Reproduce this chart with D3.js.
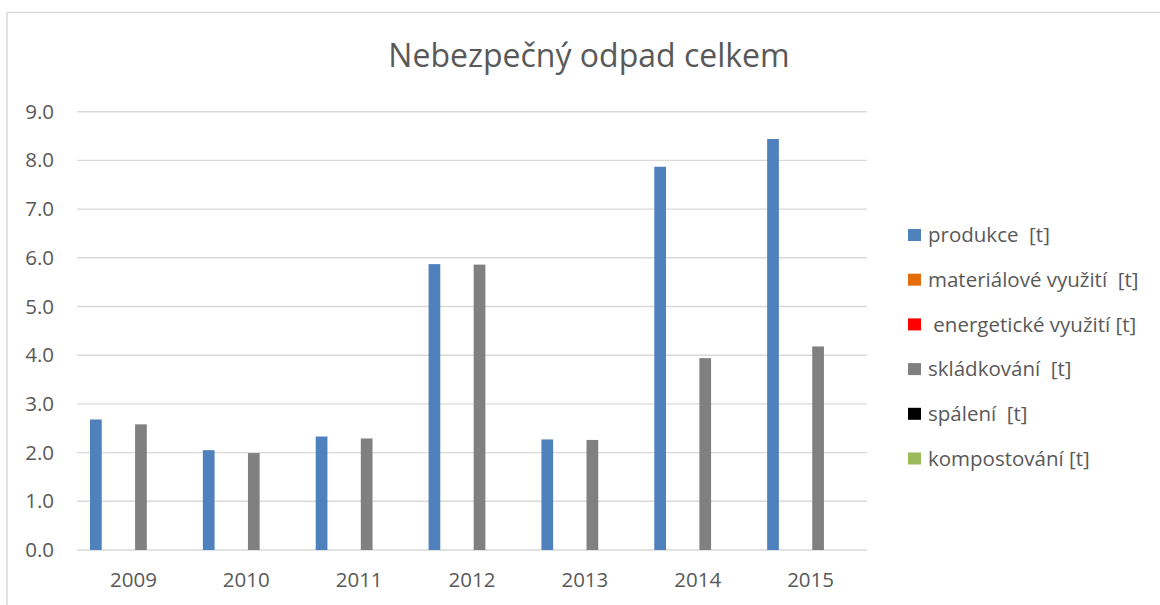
<!DOCTYPE html>
<meta charset="utf-8">
<script src="https://d3js.org/d3.v7.min.js"></script>
<style>
  body { margin: 0; background: #fff; }
  text { font-family: "Open Sans", sans-serif; fill: #595959; }
  .legend text { white-space: pre; }
</style>
<body>
<svg id="vis" width="1160" height="605"></svg>
<script>
// data
var years = ["2009", "2010", "2011", "2012", "2013", "2014", "2015"];
var seriesNames = ["produkce  [t]", "materiálové využití  [t]", " energetické využití [t]",
                   "skládkování  [t]", "spálení  [t]", "kompostování [t]"];
var seriesColors = ["#4f81bd", "#e46c0a", "#ff0000", "#808080", "#000000", "#9bbb59"];
var produkce = [2.68, 2.05, 2.33, 5.87, 2.27, 7.87, 8.44];
var materialove = [0, 0, 0, 0, 0, 0, 0];
var energeticke = [0, 0, 0, 0, 0, 0, 0];
var skladkovani = [2.58, 1.99, 2.29, 5.86, 2.26, 3.94, 4.18];
var spaleni = [0, 0, 0, 0, 0, 0, 0];
var kompostovani = [0, 0, 0, 0, 0, 0, 0];
var yTicks = [0, 1, 2, 3, 4, 5, 6, 7, 8, 9];

var allSeries = [produkce, materialove, energeticke, skladkovani, spaleni, kompostovani];

var svg = d3.select("#vis");

// chart frame
svg.append("rect")
  .attr("x", 7).attr("y", 12.5)
  .attr("width", 1200).attr("height", 700)
  .attr("fill", "none")
  .attr("stroke", "#d9d9d9")
  .attr("stroke-width", 1.5);

// title
svg.append("text")
  .attr("x", 589).attr("y", 67)
  .attr("text-anchor", "middle")
  .attr("font-size", "32px")
  .text("Nebezpečný odpad celkem");

// scales
var x0 = d3.scaleBand().domain(years).range([77, 867]);
var x1 = d3.scaleBand().domain(d3.range(seriesNames.length))
  .range([13, x0.bandwidth() - 13]).paddingInner(0.22);
var y = d3.scaleLinear().domain([0, 9]).range([550, 111.7]);

// gridlines
svg.append("g")
  .selectAll("line")
  .data(yTicks)
  .enter().append("line")
    .attr("x1", 77).attr("x2", 867)
    .attr("y1", function(d) { return y(d); })
    .attr("y2", function(d) { return y(d); })
    .attr("stroke", "#d9d9d9")
    .attr("stroke-width", 1.4);

// y axis labels
var yAxis = svg.append("g")
  .attr("transform", "translate(54,0)")
  .call(d3.axisLeft(y).tickValues(yTicks).tickSize(0).tickPadding(0).tickFormat(d3.format(".1f")));
yAxis.select(".domain").remove();
yAxis.selectAll("text").attr("font-size", "20.5px").attr("font-family", null).attr("fill", null);

// x axis labels
var xAxis = svg.append("g")
  .attr("transform", "translate(0,550)")
  .call(d3.axisBottom(x0).tickSize(0).tickPadding(22));
xAxis.select(".domain").remove();
xAxis.selectAll("text").attr("font-size", "20.5px").attr("font-family", null).attr("fill", null);

// bars
var groups = svg.append("g")
  .selectAll("g")
  .data(years)
  .enter().append("g")
    .attr("transform", function(d) { return "translate(" + x0(d) + ",0)"; });

groups.selectAll("rect")
  .data(function(d, i) { return allSeries.map(function(s, k) { return {k: k, v: s[i]}; }); })
  .enter().append("rect")
    .attr("x", function(d) { return x1(d.k); })
    .attr("width", x1.bandwidth())
    .attr("y", function(d) { return y(d.v); })
    .attr("height", function(d) { return y(0) - y(d.v); })
    .attr("fill", function(d) { return seriesColors[d.k]; });

// legend
var legend = svg.append("g").attr("class", "legend")
  .selectAll("g")
  .data(seriesNames)
  .enter().append("g")
    .attr("transform", function(d, i) { return "translate(908," + (235 + i * 44.7) + ")"; });
legend.append("rect")
  .attr("x", 0).attr("y", -6)
  .attr("width", 13).attr("height", 12)
  .attr("fill", function(d, i) { return seriesColors[i]; });
legend.append("text")
  .attr("x", 20).attr("dy", "0.35em")
  .attr("font-size", "20.5px")
  .text(function(d) { return d; });
</script>
</body>
